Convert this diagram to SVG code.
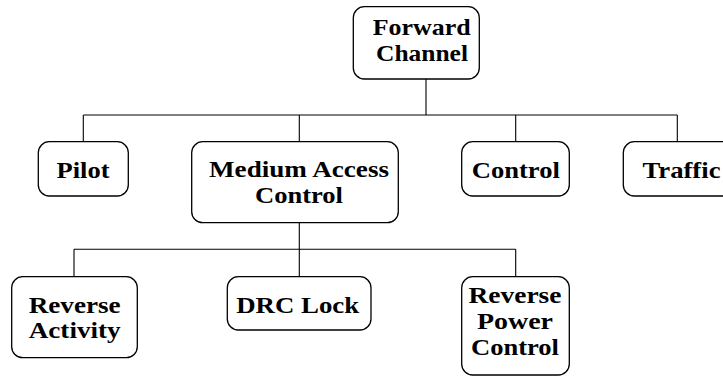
<svg xmlns="http://www.w3.org/2000/svg" width="723" height="377" viewBox="0 0 723 377">
<style>
.box{fill:#fff;stroke:#000;stroke-width:1.3}
.lbl{font-family:"Liberation Serif","Times New Roman",serif;font-weight:700;font-size:23px;fill:#000;text-anchor:middle}
.conn{stroke:#000;stroke-width:1.1;fill:none}
</style>
<rect width="723" height="377" fill="#fff"/>
<g id="connectors">
<path class="conn" d="M426,79V115M83.3,115H677.3M83.3,115V141.7M299.3,115V141.7M515.7,115V141.7M677.3,115V141.7"/>
<path class="conn" d="M299.3,222.7V276.7M74,249.3H515.7M74,249.3V276.7M515.7,249.3V276.7"/>
</g>
<g id="forward-channel">
<rect class="box" x="353.3" y="6.7" width="126" height="72.3" rx="11"/>
<text class="lbl" x="421.7" y="35" textLength="98" lengthAdjust="spacingAndGlyphs">Forward</text>
<text class="lbl" x="422" y="61" textLength="92" lengthAdjust="spacingAndGlyphs">Channel</text>
</g>
<g id="pilot">
<rect class="box" x="38.3" y="141.7" width="90" height="54.3" rx="11"/>
<text class="lbl" x="83" y="178.3" textLength="53" lengthAdjust="spacingAndGlyphs">Pilot</text>
</g>
<g id="mac">
<rect class="box" x="191.7" y="141.7" width="206.6" height="81" rx="11"/>
<text class="lbl" x="299" y="177.3" textLength="180" lengthAdjust="spacingAndGlyphs">Medium Access</text>
<text class="lbl" x="299" y="203.3" textLength="88" lengthAdjust="spacingAndGlyphs">Control</text>
</g>
<g id="control">
<rect class="box" x="461.7" y="141.7" width="107.6" height="54.3" rx="11"/>
<text class="lbl" x="515.8" y="178.3" textLength="88" lengthAdjust="spacingAndGlyphs">Control</text>
</g>
<g id="traffic">
<rect class="box" x="623.3" y="141.7" width="110" height="54.3" rx="11"/>
<text class="lbl" x="681.5" y="178.3" textLength="78" lengthAdjust="spacingAndGlyphs">Traffic</text>
</g>
<g id="reverse-activity">
<rect class="box" x="11.7" y="276.7" width="125.6" height="81" rx="11"/>
<text class="lbl" x="74.7" y="312.5" textLength="92" lengthAdjust="spacingAndGlyphs">Reverse</text>
<text class="lbl" x="74.7" y="338.3" textLength="92" lengthAdjust="spacingAndGlyphs">Activity</text>
</g>
<g id="drc-lock">
<rect class="box" x="227.3" y="276.7" width="143.7" height="53.3" rx="11"/>
<text class="lbl" x="297.7" y="312.7" textLength="123" lengthAdjust="spacingAndGlyphs">DRC Lock</text>
</g>
<g id="reverse-power-control">
<rect class="box" x="461.7" y="276.7" width="107.6" height="98.3" rx="11"/>
<text class="lbl" x="515" y="303.3" textLength="93" lengthAdjust="spacingAndGlyphs">Reverse</text>
<text class="lbl" x="515" y="329.3" textLength="76" lengthAdjust="spacingAndGlyphs">Power</text>
<text class="lbl" x="515" y="355.3" textLength="88" lengthAdjust="spacingAndGlyphs">Control</text>
</g>
</svg>
